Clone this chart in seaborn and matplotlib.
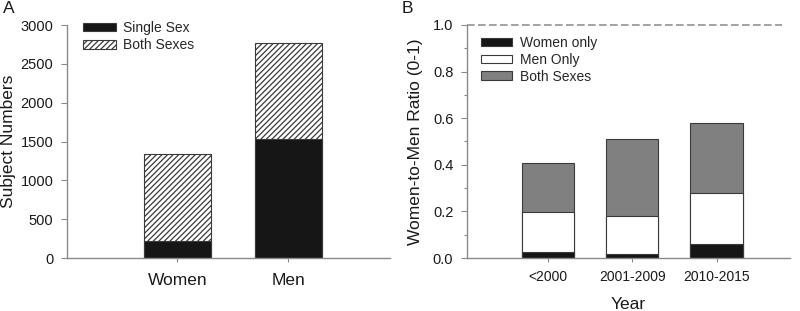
import matplotlib
matplotlib.use('Agg')
import matplotlib.pyplot as plt
import seaborn as sns
import numpy as np
from matplotlib.patches import Patch
from matplotlib.ticker import MultipleLocator, FormatStrFormatter

# ---- data ----
sex_groups = ['Women', 'Men']
single_sex = [220, 1535]
both_sexes_a = [1125, 1230]

periods = ['<2000', '2001-2009', '2010-2015']
women_only = [0.024, 0.016, 0.060]
men_only = [0.175, 0.164, 0.220]
both_sexes_b = [0.207, 0.329, 0.301]

sns.set_style('white')
plt.rcParams['font.family'] = ['Liberation Sans', 'DejaVu Sans']
plt.rcParams['hatch.linewidth'] = 0.9

SPINE = '#8a8a8a'
EDGE = '#3a3a3a'
BLACK = '#161616'
GRAY = '#808080'
TXT = '#1a1a1a'

fig = plt.figure(figsize=(8, 3.11), dpi=100)
axA = fig.add_axes([67/800, 1-258/311, (390-67)/800, (258-25)/311])
axB = fig.add_axes([467/800, 1-258/311, (790-467)/800, (258-25)/311])

# ---- panel A ----
total_a = np.array(single_sex) + np.array(both_sexes_a)
sns.barplot(x=sex_groups, y=total_a, color='white', width=0.6, saturation=1,
            edgecolor=EDGE, linewidth=0.8, hatch='//////', errorbar=None, ax=axA)
sns.barplot(x=sex_groups, y=single_sex, color=BLACK, width=0.6, saturation=1,
            edgecolor=EDGE, linewidth=0.8, errorbar=None, ax=axA)
axA.set_xlim(-0.995, 1.915)
axA.set_ylim(0, 3000)
axA.yaxis.set_major_locator(MultipleLocator(500))
axA.set_ylabel('Subject Numbers', fontsize=12.5, color=TXT, labelpad=3)
axA.set_xlabel('')
axA.tick_params(axis='x', labelsize=12.5, pad=8, length=3)
axA.tick_params(axis='y', labelsize=10.5, pad=5.4, length=4.5)
handlesA = [Patch(facecolor=BLACK, edgecolor=EDGE, linewidth=0.8, label='Single Sex'),
            Patch(facecolor='white', edgecolor=EDGE, linewidth=0.8, hatch='//////', label='Both Sexes')]
axA.legend(handles=handlesA, loc='upper left', bbox_to_anchor=(83/800, 1-21/311),
           bbox_transform=fig.transFigure, frameon=False, fontsize=10,
           borderpad=0, borderaxespad=0, handlelength=2.4, handleheight=0.55,
           handletextpad=0.5, labelspacing=0.25)

# ---- panel B ----
wm = np.array(women_only) + np.array(men_only)
total_b = wm + np.array(both_sexes_b)
sns.barplot(x=periods, y=total_b, color=GRAY, width=0.62, saturation=1,
            edgecolor=EDGE, linewidth=0.8, errorbar=None, ax=axB)
sns.barplot(x=periods, y=wm, color='white', width=0.62, saturation=1,
            edgecolor=EDGE, linewidth=0.8, errorbar=None, ax=axB)
sns.barplot(x=periods, y=women_only, color=BLACK, width=0.62, saturation=1,
            edgecolor=EDGE, linewidth=0.8, errorbar=None, ax=axB)
axB.set_xlim(-0.96, 2.87)
axB.set_ylim(0, 1.0)
axB.axhline(1.0, xmin=0, xmax=0.975, color=SPINE, lw=1.1,
            linestyle=(0, (5, 2.2)), clip_on=False, zorder=5)
axB.yaxis.set_major_locator(MultipleLocator(0.2))
axB.yaxis.set_minor_locator(MultipleLocator(0.1))
axB.yaxis.set_major_formatter(FormatStrFormatter('%.1f'))
axB.set_ylabel('Women-to-Men Ratio (0-1)', fontsize=12.5, color=TXT, labelpad=7)
axB.set_xlabel('Year', fontsize=12.5, color=TXT, labelpad=9.5)
axB.tick_params(axis='x', labelsize=10, pad=5.5, length=3)
axB.tick_params(axis='y', which='major', labelsize=10.5, pad=5.4, length=4.5)
axB.tick_params(axis='y', which='minor', length=2.5, width=0.8, color=SPINE, left=True)
handlesB = [Patch(facecolor=BLACK, edgecolor=EDGE, linewidth=0.8, label='Women only'),
            Patch(facecolor='white', edgecolor=EDGE, linewidth=0.8, label='Men Only'),
            Patch(facecolor=GRAY, edgecolor=EDGE, linewidth=0.8, label='Both Sexes')]
axB.legend(handles=handlesB, loc='upper left', bbox_to_anchor=(481/800, 1-36/311),
           bbox_transform=fig.transFigure, frameon=False, fontsize=10,
           borderpad=0, borderaxespad=0, handlelength=2.2, handleheight=0.55,
           handletextpad=0.58, labelspacing=0.2)

for ax in (axA, axB):
    for s in ('top', 'right'):
        ax.spines[s].set_visible(False)
    for s in ('left', 'bottom'):
        ax.spines[s].set_color(SPINE)
        ax.spines[s].set_linewidth(1.0)
    ax.tick_params(which='both', direction='out', color=SPINE, width=0.8,
                   labelcolor=TXT, left=True, bottom=True)

fig.text(3/800, 1-1/311, 'A', fontsize=12.5, va='top', ha='left', color=TXT)
fig.text(402/800, 1-1/311, 'B', fontsize=12.5, va='top', ha='left', color=TXT)

fig.savefig('out.png', dpi=100)
